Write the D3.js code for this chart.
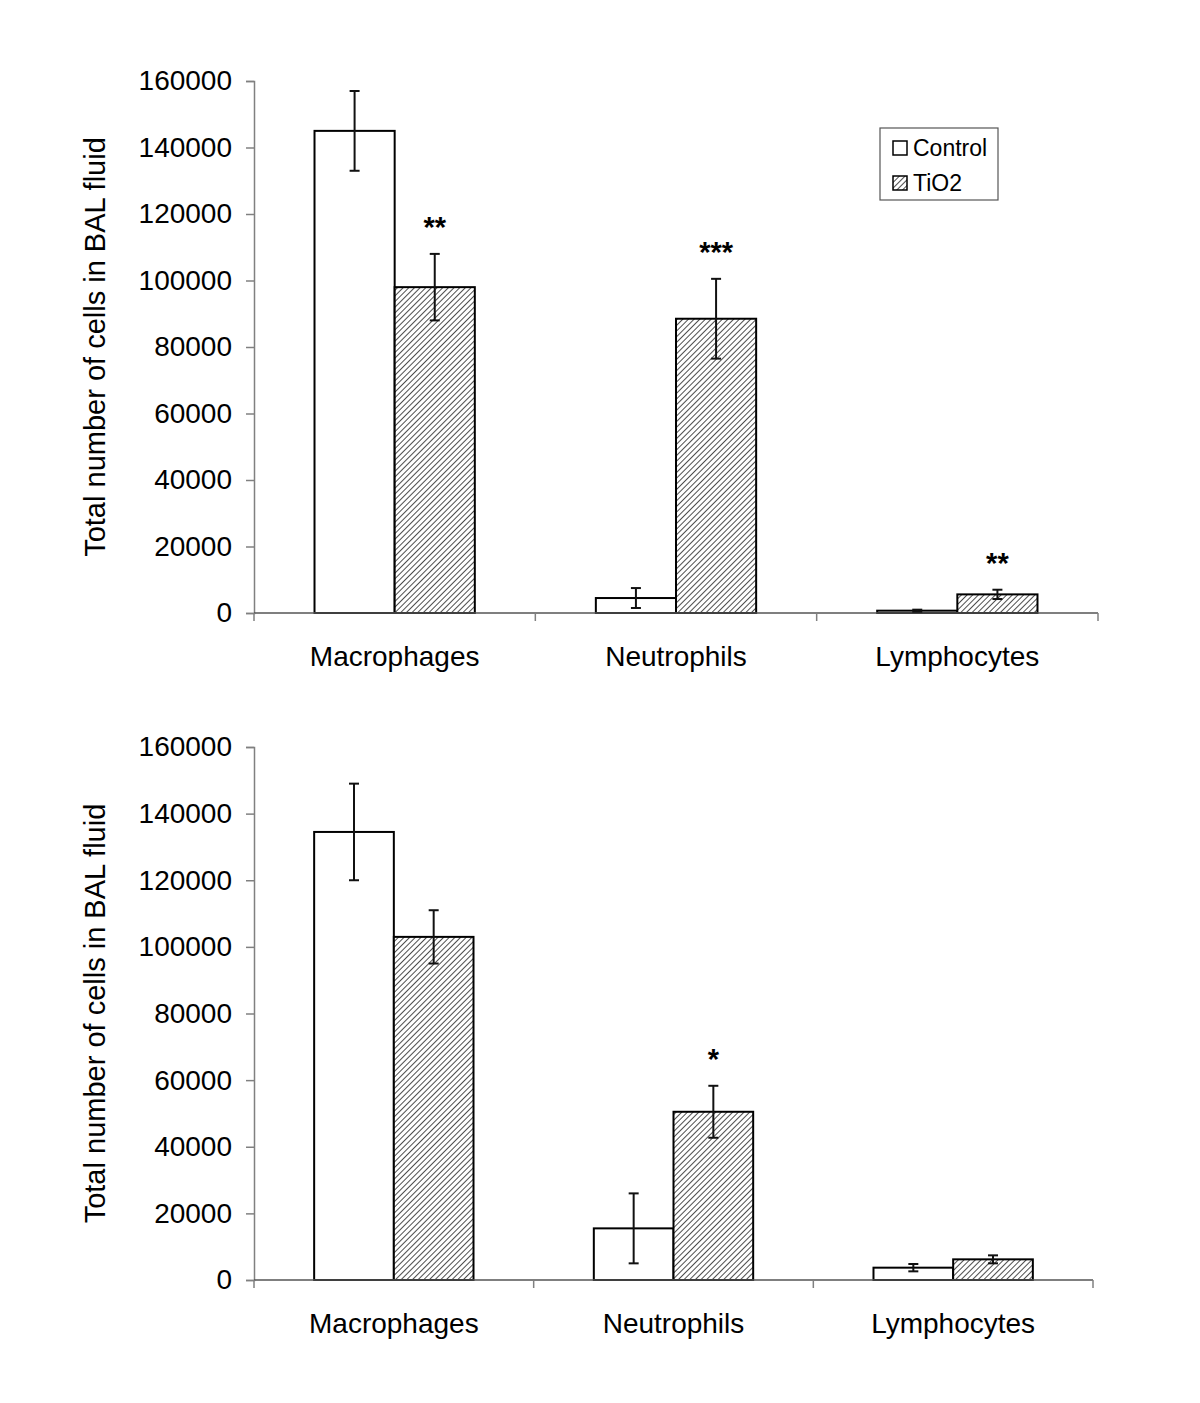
<!DOCTYPE html>
<html><head><meta charset="utf-8">
<script src="https://cdn.jsdelivr.net/npm/d3@7"></script>
<style>body{margin:0;background:#fff}svg{display:block}text{font-family:"Liberation Sans",Arial,sans-serif}</style>
</head><body>
<svg id="c" width="1200" height="1403"></svg>
<script>
const categories = ["Macrophages","Neutrophils","Lymphocytes"];
const seriesNames = ["Control","TiO2"];
const yTicks = [0,20000,40000,60000,80000,100000,120000,140000,160000];
// Panel A
const aControl = [145000, 4500, 700];
const aControlErr = [12000, 3000, 300];
const aTiO2 = [98000, 88500, 5600];
const aTiO2Err = [10000, 12000, 1400];
const aSig = ["**","***","**"];
// Panel B
const bControl = [134500, 15500, 3700];
const bControlErr = [14500, 10500, 1100];
const bTiO2 = [103000, 50500, 6200];
const bTiO2Err = [8000, 7800, 1200];
const bSig = ["","*",""];

const svg = d3.select("#c");
const defs = svg.append("defs");
const pat = defs.append("pattern").attr("id","hatch").attr("patternUnits","userSpaceOnUse")
  .attr("width",4).attr("height",4).attr("patternTransform","rotate(45)");
pat.append("rect").attr("width",4).attr("height",4).attr("fill","#fff");
pat.append("line").attr("x1",0).attr("y1",0).attr("x2",0).attr("y2",4).attr("stroke","#3a3a3a").attr("stroke-width",1.8);

function panel(p){
  const g = svg.append("g");
  const x = d3.scaleBand().domain(categories).range([p.x0,p.x1]).paddingInner(0).paddingOuter(0);
  const xs = d3.scaleBand().domain(seriesNames).range([0,x.bandwidth()]).paddingInner(0).paddingOuter(0.755);
  const y = d3.scaleLinear().domain([0,160000]).range([p.y0,p.y1]);
  const ya = g.append("g").attr("transform",`translate(${p.x0},0)`)
    .call(d3.axisLeft(y).tickValues(yTicks).tickFormat(d3.format("d")).tickSize(8).tickPadding(14));
  ya.select(".domain").attr("stroke","#808080").attr("stroke-width",1.5);
  ya.selectAll(".tick line").attr("stroke","#808080").attr("stroke-width",1.5);
  ya.selectAll("text").attr("font-size",28).attr("fill","#000").style("font-family",'"Liberation Sans",Arial,sans-serif');
  const data = [
    {s:"Control", v:p.c, e:p.ce},
    {s:"TiO2", v:p.t, e:p.te}
  ];
  data.forEach(d=>{
    categories.forEach((cat,i)=>{
      const bx = x(cat)+xs(d.s), bw = xs.bandwidth();
      g.append("rect").attr("x",bx).attr("y",y(d.v[i])).attr("width",bw).attr("height",y(0)-y(d.v[i]))
        .attr("fill", d.s==="Control" ? "#fff" : "url(#hatch)").attr("stroke","#000").attr("stroke-width",2);
    });
  });
  g.append("line").attr("x1",p.x0).attr("x2",p.x1).attr("y1",y(0)).attr("y2",y(0)).attr("stroke","#555").attr("stroke-width",1.5);
  [p.x0, ...categories.map(c=>x(c)+x.bandwidth())].forEach(tx=>{
    g.append("line").attr("x1",tx).attr("x2",tx).attr("y1",y(0)).attr("y2",y(0)+8).attr("stroke","#808080").attr("stroke-width",1.5);
  });
  data.forEach(d=>{
    categories.forEach((cat,i)=>{
      const cx = x(cat)+xs(d.s)+xs.bandwidth()/2;
      const hi = y(d.v[i]+d.e[i]), lo = y(d.v[i]-d.e[i]);
      g.append("line").attr("x1",cx).attr("x2",cx).attr("y1",hi).attr("y2",lo).attr("stroke","#111").attr("stroke-width",2);
      [hi,lo].forEach(yy=>g.append("line").attr("x1",cx-5).attr("x2",cx+5).attr("y1",yy).attr("y2",yy).attr("stroke","#111").attr("stroke-width",2));
    });
  });
  categories.forEach((cat,i)=>{
    if(!p.sig[i]) return;
    const cx = x(cat)+xs("TiO2")+xs.bandwidth()/2;
    g.append("text").attr("x",cx).attr("y",y(p.t[i]+p.te[i])-17).attr("text-anchor","middle")
      .attr("font-size",29).attr("font-weight","bold").text(p.sig[i]);
  });
  categories.forEach(cat=>{
    g.append("text").attr("x",x(cat)+x.bandwidth()/2).attr("y",y(0)+53).attr("text-anchor","middle")
      .attr("font-size",28).text(cat);
  });
  g.append("text").attr("transform",`translate(105,${(p.y0+p.y1)/2}) rotate(-90)`).attr("text-anchor","middle")
    .attr("font-size",29).text("Total number of cells in BAL fluid");
  return {x,y};
}

panel({x0:254,x1:1098,y0:613,y1:81,c:aControl,ce:aControlErr,t:aTiO2,te:aTiO2Err,sig:aSig});
panel({x0:254,x1:1093,y0:1280,y1:747,c:bControl,ce:bControlErr,t:bTiO2,te:bTiO2Err,sig:bSig});

const lg = svg.append("g");
lg.append("rect").attr("x",880).attr("y",128).attr("width",118).attr("height",72).attr("fill","#fff").attr("stroke","#555").attr("stroke-width",1.2);
seriesNames.forEach((s,i)=>{
  const yy = 148 + i*35;
  lg.append("rect").attr("x",893).attr("y",yy-7).attr("width",14).attr("height",14)
    .attr("fill", s==="Control"?"#fff":"url(#hatch)").attr("stroke","#000").attr("stroke-width",1.5);
  lg.append("text").attr("x",913).attr("y",yy+8).attr("font-size",23).text(s);
});
</script>
</body></html>
